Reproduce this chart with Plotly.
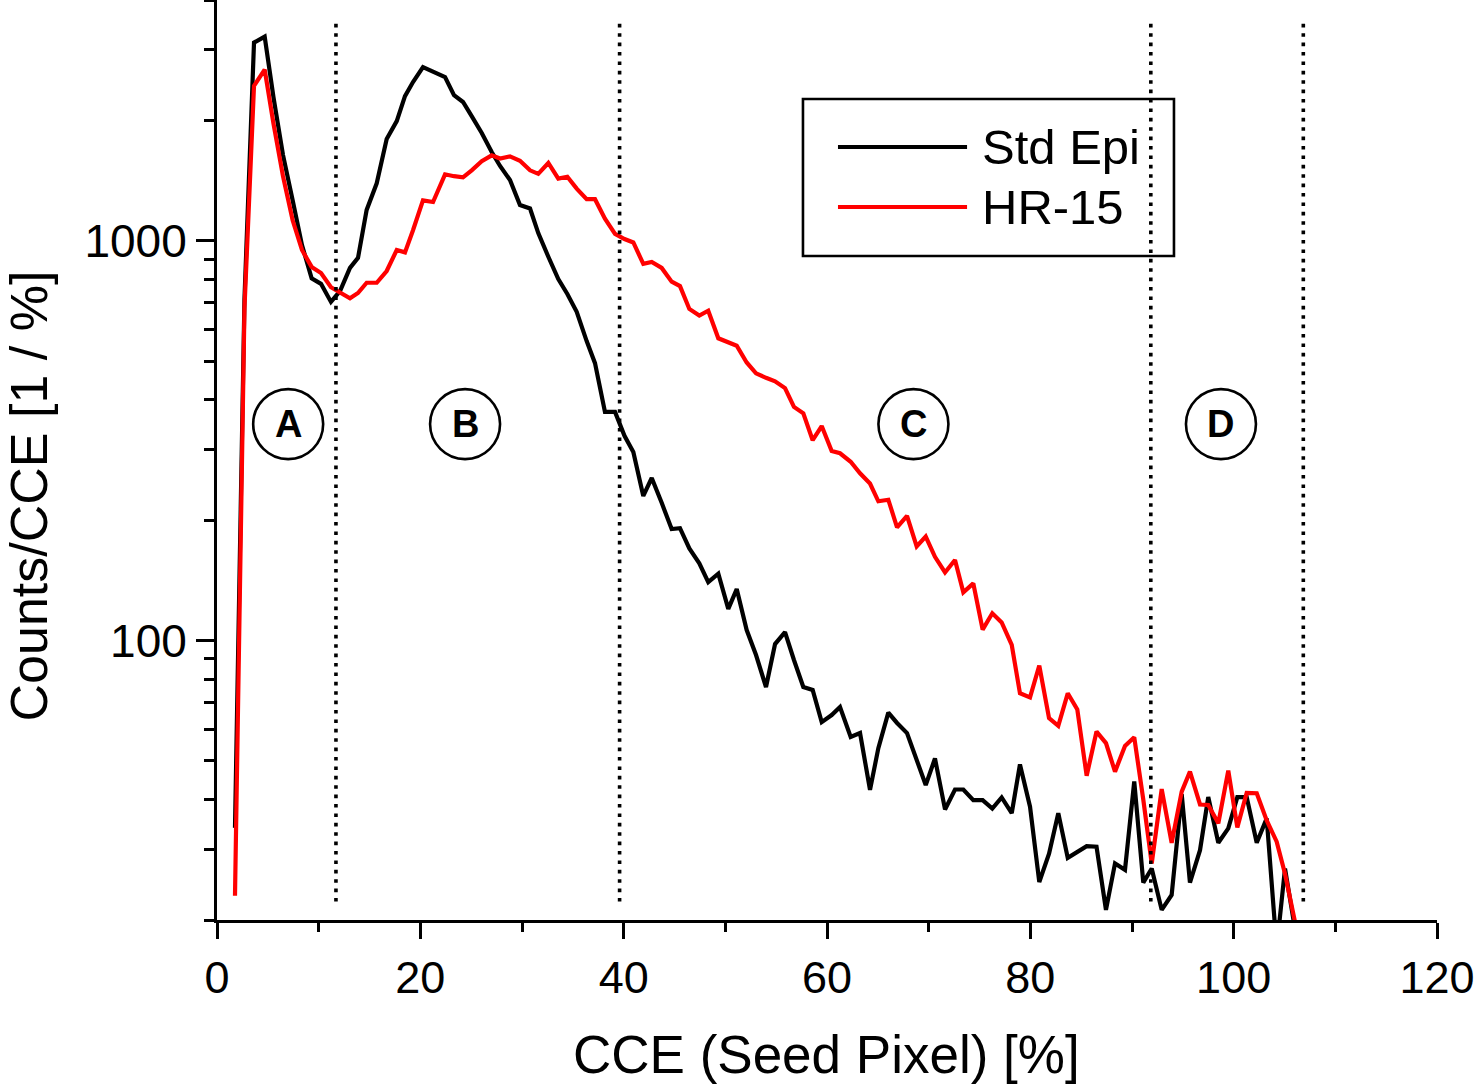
import math
import plotly.graph_objects as go

# CCE (seed pixel) bin positions [%]
cce = [1.77, 2.70, 3.64, 4.69, 5.56, 6.49, 7.44, 8.36, 9.31, 10.23,
       11.21, 12.10, 13.08, 13.87, 14.72, 15.71, 16.69, 17.68, 18.49, 19.28,
       20.26, 21.25, 22.43, 23.31, 24.20, 25.05, 26.04, 27.02, 27.84, 28.82,
       29.80, 30.79, 31.60, 32.59, 33.57, 34.46, 35.38, 36.36, 37.18, 38.16,
       39.15, 40.08, 40.95, 41.93, 42.76, 43.74, 44.72, 45.54, 46.46, 47.44,
       48.32, 49.31, 50.29, 51.12, 52.10, 53.02, 54.00, 54.89, 55.87, 56.75,
       57.67, 58.59, 59.48, 60.46, 61.28, 62.33, 63.25, 64.23, 65.05, 66.03,
       66.89, 67.87, 68.82, 69.71, 70.62, 71.61, 72.59, 73.41, 74.39, 75.31,
       76.26, 77.18, 78.17, 78.98, 79.97, 80.88, 81.84, 82.75, 83.68, 84.62,
       85.54, 86.51, 87.44, 88.33, 89.31, 90.22, 91.11, 91.94, 92.92, 93.90,
       94.89, 95.70, 96.69, 97.50, 98.49, 99.47, 100.36, 101.28, 102.27, 103.25,
       104.23, 105.05, 106.03]

std_epi = [34, 713, 3130, 3240, 2280, 1640, 1262, 975, 805, 780,
           703, 748, 855, 906, 1194, 1392, 1796, 1992, 2300, 2494,
           2718, 2642, 2567, 2313, 2223, 2050, 1860, 1667, 1538, 1418,
           1228, 1204, 1045, 912, 802, 736, 664, 561, 494, 373,
           373, 325, 296, 230, 255, 221, 190, 191, 170, 156,
           140, 147, 120, 134.5, 106.2, 92, 76.5, 98, 105, 89.4,
           76.5, 75.2, 62.5, 65.1, 68.2, 57.4, 58.7, 42.3, 53.8, 66,
           62.2, 58.7, 49.8, 43.5, 50.7, 37.8, 42.4, 42.4, 39.9, 39.9,
           38.0, 40.5, 37.0, 49.0, 38.4, 24.9, 29.3, 37.0, 28.6, 29.6,
           30.6, 30.5, 21.2, 27.7, 26.7, 44.4, 24.8, 26.9, 21.2, 23.1,
           41.3, 24.8, 29.9, 40.6, 31.2, 33.9, 40.6, 40.6, 31.2, 35.9,
           17, 26.9, 19]

hr15 = [23, 676, 2440, 2680, 1960, 1450, 1125, 948, 860, 830,
        765, 740, 718, 740, 785, 785, 840, 948, 935, 1062,
        1262, 1250, 1466, 1450, 1440, 1500, 1580, 1635, 1605, 1625,
        1585, 1500, 1470, 1565, 1430, 1445, 1350, 1270, 1270, 1135,
        1040, 1010, 990, 875, 885, 855, 790, 770, 675, 650,
        668, 570, 557, 546, 496, 466, 454, 445, 428, 384,
        370, 317, 344, 298, 294, 280, 262, 247, 223, 225,
        192, 205, 172, 182, 162, 148, 159, 132, 139, 106.5,
        117, 111, 97.5, 73.8, 72.1, 86.6, 64, 61.2, 73.8, 67.2,
        45.9, 59.2, 55.4, 47.0, 54.5, 57.3, 40, 27.7, 42.5, 31.2,
        41.9, 47.0, 38.9, 38.8, 34.9, 47.3, 34.1, 41.6, 41.5, 35.5,
        31.4, 26.1, 19.8]

series_names = ["Std Epi", "HR-15"]
series_colors = ["#000000", "#ff0000"]

x_ticks = [0, 20, 40, 60, 80, 100, 120]
x_minor = [10, 30, 50, 70, 90, 110]
y_ticks = [100, 1000]
y_minor = [20, 30, 40, 50, 60, 70, 80, 90, 200, 300, 400, 500, 600, 700, 800, 900, 2000, 3000, 4000]

region_bounds = [11.7, 39.6, 91.85, 106.85]
region_labels = ["A", "B", "C", "D"]
region_label_x = [7.0, 24.4, 68.5, 98.75]

FONT = "Arial, Liberation Sans, Helvetica, sans-serif"

fig = go.Figure()
for yv, nm, col in zip([std_epi, hr15], series_names, series_colors):
    fig.add_trace(go.Scatter(x=cce, y=yv, mode="lines", name=nm,
                             line=dict(color=col, width=4.2), showlegend=False))

shapes = []
for xb in region_bounds:
    shapes.append(dict(type="line", xref="x", yref="paper", x0=xb, x1=xb, y0=0.02, y1=0.98,
                       line=dict(color="black", width=3.6, dash="3.6px,5.8px"), layer="above"))
annotations = []
for lx, lab in zip(region_label_x, region_labels):
    shapes.append(dict(type="circle", xref="x", yref="paper", xsizemode="pixel", ysizemode="pixel",
                       xanchor=lx, yanchor=0.539, x0=-35, x1=35, y0=-35, y1=35,
                       line=dict(color="black", width=2.6)))
    annotations.append(dict(x=lx, y=0.539, xref="x", yref="paper", text="<b>%s</b>" % lab,
                            showarrow=False, xanchor="center", yanchor="middle",
                            font=dict(family=FONT, size=38, color="black")))

# legend box (drawn manually to match long line samples)
shapes.append(dict(type="rect", xref="paper", yref="paper", x0=0.4803, x1=0.7844, y0=0.7217, y1=0.8924,
                   line=dict(color="black", width=2.6), fillcolor="white", layer="below"))
leg_y = [0.8402, 0.775]
for ly, nm, col in zip(leg_y, series_names, series_colors):
    shapes.append(dict(type="line", xref="paper", yref="paper", x0=0.5090, x1=0.6148, y0=ly, y1=ly,
                       line=dict(color=col, width=4.2)))
    annotations.append(dict(x=0.6254, y=ly, xref="paper", yref="paper", text=nm, showarrow=False,
                            xanchor="left", yanchor="middle",
                            font=dict(family=FONT, size=49, color="black")))

# axis titles
annotations.append(dict(x=0.4992, y=-0.1467, xref="paper", yref="paper", text="CCE (Seed Pixel) [%]",
                        showarrow=False, xanchor="center", yanchor="middle",
                        font=dict(family=FONT, size=53, color="black")))
annotations.append(dict(x=-0.1545, y=0.4609, xref="paper", yref="paper", text="Counts/CCE [1 / %]",
                        showarrow=False, xanchor="center", yanchor="middle", textangle=-90,
                        font=dict(family=FONT, size=52, color="black")))

fig.update_layout(
    width=1475, height=1090,
    margin=dict(l=217, r=38, t=0, b=170),
    paper_bgcolor="white", plot_bgcolor="white",
    shapes=shapes, annotations=annotations,
    showlegend=False,
    xaxis=dict(range=[0, 120], tickmode="array", tickvals=x_ticks,
               ticktext=[str(v) for v in x_ticks], ticklabeloverflow="allow",
               showline=True, linecolor="black", linewidth=3, mirror=False,
               ticks="outside", ticklen=16, tickwidth=2.5, tickcolor="black",
               showgrid=False, zeroline=False,
               tickfont=dict(family=FONT, size=45, color="black"),
               minor=dict(tickmode="array", tickvals=x_minor, ticks="outside",
                          ticklen=9, tickwidth=2.5, tickcolor="black", showgrid=False)),
    yaxis=dict(type="log", range=[math.log10(20), math.log10(4000)],
               tickmode="array", tickvals=y_ticks, ticktext=[str(v) for v in y_ticks],
               ticklabeloverflow="allow",
               showline=True, linecolor="black", linewidth=3, mirror=False,
               ticks="outside", ticklen=18, tickwidth=2.5, tickcolor="black",
               showgrid=False, zeroline=False,
               tickfont=dict(family=FONT, size=46, color="black"),
               minor=dict(tickmode="array", tickvals=y_minor, ticks="outside",
                          ticklen=10, tickwidth=2.5, tickcolor="black", showgrid=False)),
)

fig.write_html("out.html")
